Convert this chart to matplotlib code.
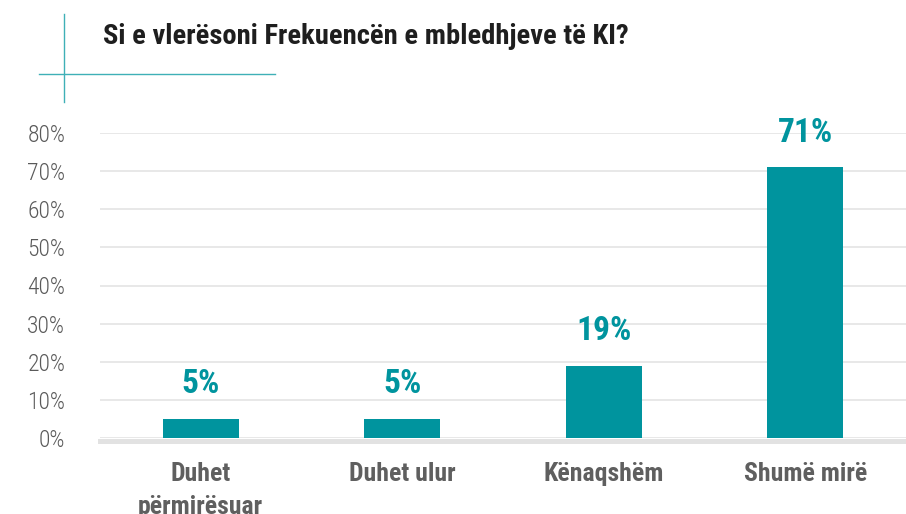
import matplotlib.pyplot as plt
from matplotlib.lines import Line2D

categories = ["Duhet\npërmirësuar", "Duhet ulur", "Kënaqshëm", "Shumë mirë"]
values = [5, 5, 19, 71]
y_ticks = [0, 10, 20, 30, 40, 50, 60, 70, 80]
title = "Si e vlerësoni Frekuencën e mbledhjeve të KI?"

teal = "#00949e"
font = ["Roboto Condensed", "Liberation Sans Narrow", "Roboto", "DejaVu Sans"]

fig = plt.figure(figsize=(9.06, 5.14), dpi=100)
ax = fig.add_axes([100 / 906, 76 / 514, 806 / 906, 305 / 514])

x = list(range(len(categories)))
bars = ax.bar(x, values, width=0.375, color=teal, zorder=3)

for bar, v in zip(bars, values):
    ax.annotate(
        f"{v}%",
        (bar.get_x() + bar.get_width() / 2, bar.get_height()),
        xytext=(0, 25),
        textcoords="offset points",
        ha="center",
        va="center",
        color=teal,
        fontsize=24,
        fontweight="bold",
        family=font,
    )

# spine position first: it resets the ticks
for side in ["top", "right", "left"]:
    ax.spines[side].set_visible(False)
ax.spines["bottom"].set_color("#e2e2e2")
ax.spines["bottom"].set_linewidth(3.6)
ax.spines["bottom"].set_position(("outward", 2))

ax.set_xlim(-0.5, 3.5)
ax.set_ylim(0, 80)
ax.set_yticks(y_ticks)
ax.set_yticklabels([f"{t}%" for t in y_ticks])
ax.set_xticks(x)
ax.set_xticklabels(categories)
ax.tick_params(axis="y", length=0, pad=25)
ax.tick_params(axis="x", length=0, pad=15)

for lbl in ax.get_yticklabels():
    lbl.set_family(font)
    lbl.set_fontsize(17)
    lbl.set_fontweight("light")
    lbl.set_color("#5a5a5a")
for lbl in ax.get_xticklabels():
    lbl.set_family(font)
    lbl.set_fontsize(18.5)
    lbl.set_fontweight("bold")
    lbl.set_color("#5f5f5f")
    lbl.set_linespacing(1.5)

ax.grid(axis="y", color="#e6e6e6", linewidth=1.3, zorder=0)

fig.text(103 / 906, 1 - 36 / 514, title, family=font, fontsize=20.5,
         fontweight="bold", color="#1e1e1e", va="center", ha="left")

# decorative cross in the top-left corner
fig.add_artist(Line2D([64 / 906, 64 / 906], [1 - 14 / 514, 1 - 102 / 514],
                      transform=fig.transFigure, color="#3fb0b7", linewidth=1))
fig.add_artist(Line2D([39 / 906, 275 / 906], [1 - 74 / 514, 1 - 74 / 514],
                      transform=fig.transFigure, color="#3fb0b7", linewidth=1))

fig.savefig("out.png", dpi=100)
